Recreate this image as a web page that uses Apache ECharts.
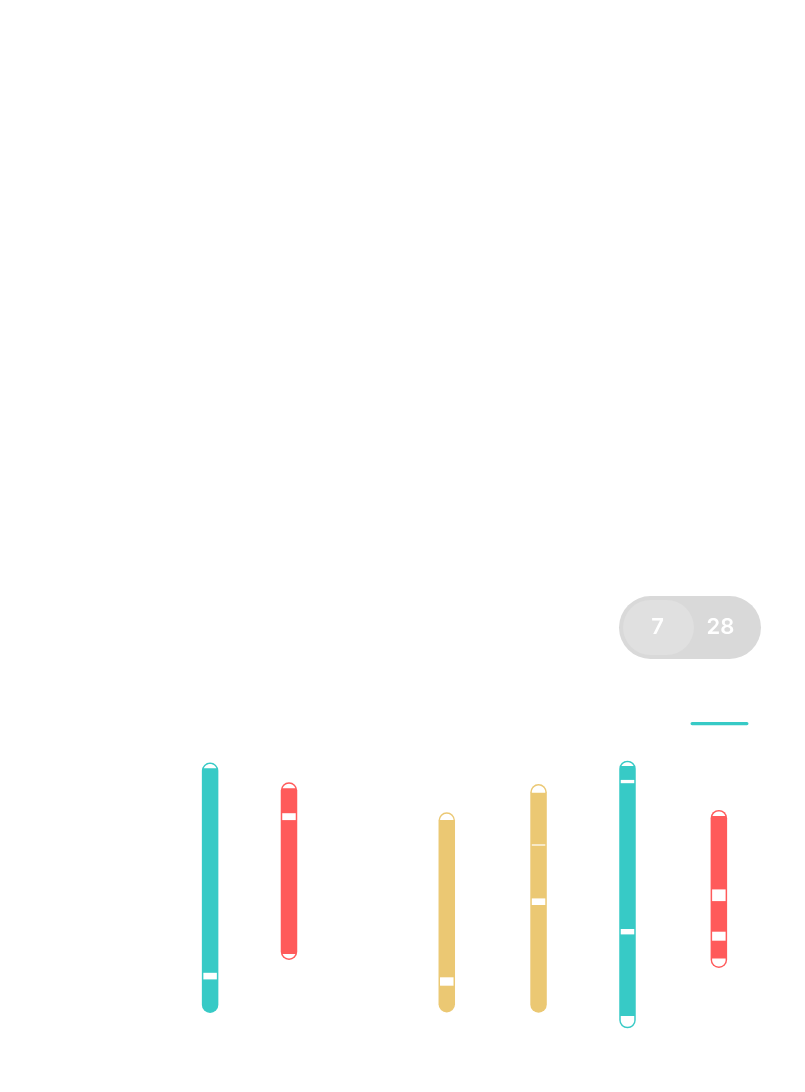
<!DOCTYPE html>
<html>
<head>
<meta charset="utf-8">
<script src="https://cdn.jsdelivr.net/npm/echarts@6/dist/echarts.min.js"></script>
<style>
  html, body { margin: 0; padding: 0; background: #ffffff; }
  #chart { width: 805px; height: 1092px; }
</style>
</head>
<body>
<div id="chart"></div>
<script>
// ---- Data ----
const rangeLabels = ['7', '28'];
const barX    = [26.1, 35.9, 55.5, 66.9, 77.95, 89.3];
const barLow  = [13.0, 30.7, 13.2, 13.1, 7.9, 28.0];
const barHigh = [96.5, 89.9, 79.9, 89.3, 97.1, 80.7];
// white (empty) segments inside each bar: [from, to]
const barGaps = [
  [[94.6, 96.5], [24.2, 26.4]],
  [[87.9, 89.9], [77.3, 79.6], [30.7, 32.7]],
  [[77.3, 79.9], [22.1, 24.9]],
  [[86.4, 89.3], [68.8, 69.2], [49.0, 51.2]],
  [[95.3, 97.1], [89.6, 90.7], [39.2, 41.0], [7.9, 12.0]],
  [[78.7, 80.7], [50.3, 54.2], [37.1, 40.1], [28.0, 31.2]]
];

// ---- Styles ----
const TEAL = '#37cac6', RED = '#ff5a5a', YELLOW = '#ebc873';
const barColors = [TEAL, RED, YELLOW, YELLOW, TEAL, RED];

const seriesData = barX.map((x, i) => [x, barLow[i], barHigh[i]]);

function renderItem(params, api) {
  const i = params.dataIndex;
  const x = api.value(0), lo = api.value(1), hi = api.value(2);
  const top = api.coord([x, hi]);
  const bot = api.coord([x, lo]);
  const w = 16.5, r = w / 2, inset = 1.5, ri = r - inset;
  const cx = top[0];
  const color = barColors[i];
  const children = [{
    type: 'rect',
    shape: { x: cx - r, y: top[1], width: w, height: bot[1] - top[1], r: r },
    style: { fill: color }
  }];
  const cTop = top[1] + r, cBot = bot[1] - r;
  const yMin = top[1] + inset, yMax = bot[1] - inset;
  function half(y) {
    if (y < cTop) { const d = cTop - y; return Math.sqrt(Math.max(0, ri * ri - d * d)); }
    if (y > cBot) { const d = y - cBot; return Math.sqrt(Math.max(0, ri * ri - d * d)); }
    return ri;
  }
  (barGaps[i] || []).forEach(g => {
    let ya = api.coord([x, g[1]])[1];
    let yb = api.coord([x, g[0]])[1];
    ya = Math.max(ya, yMin); yb = Math.min(yb, yMax);
    if (yb <= ya) return;
    const N = 40;
    const ys = [];
    for (let k = 0; k <= N; k++) ys.push(ya + (yb - ya) * k / N);
    const left = ys.map(y => [cx - half(y), y]);
    const right = ys.slice().reverse().map(y => [cx + half(y), y]);
    children.push({
      type: 'polygon',
      shape: { points: left.concat(right) },
      style: { fill: '#ffffff' }
    });
  });
  return { type: 'group', children: children };
}

const chart = echarts.init(document.getElementById('chart'), null, { renderer: 'canvas' });
chart.setOption({
  animation: false,
  backgroundColor: '#ffffff',
  grid: { left: 0, right: 0, top: 752, bottom: 40 },
  xAxis: { type: 'value', min: 0, max: 100, show: false },
  yAxis: { type: 'value', min: 0, max: 100, show: false },
  graphic: [
    {
      type: 'rect',
      shape: { x: 619, y: 596, width: 142, height: 63, r: 31.5 },
      style: { fill: '#d9d9d9' }
    },
    {
      type: 'rect',
      shape: { x: 623, y: 600, width: 71, height: 55, r: 27.5 },
      style: { fill: '#e0e0e0' }
    },
    {
      type: 'text',
      x: 657.5, y: 627.5,
      style: {
        text: rangeLabels[0], fill: '#ffffff', fontSize: 22, fontWeight: 600,
        fontFamily: 'Inter, Lato, sans-serif', align: 'center', verticalAlign: 'middle'
      }
    },
    {
      type: 'text',
      x: 720.5, y: 627.5,
      style: {
        text: rangeLabels[1], fill: '#ffffff', fontSize: 22, fontWeight: 600,
        fontFamily: 'Inter, Lato, sans-serif', align: 'center', verticalAlign: 'middle'
      }
    },
    {
      type: 'rect',
      shape: { x: 690.5, y: 722, width: 58, height: 3.2, r: 1.6 },
      style: { fill: TEAL }
    }
  ],
  series: [{
    type: 'custom',
    renderItem: renderItem,
    data: seriesData,
    encode: { x: 0, y: [1, 2] },
    clip: false
  }]
});
</script>
</body>
</html>
